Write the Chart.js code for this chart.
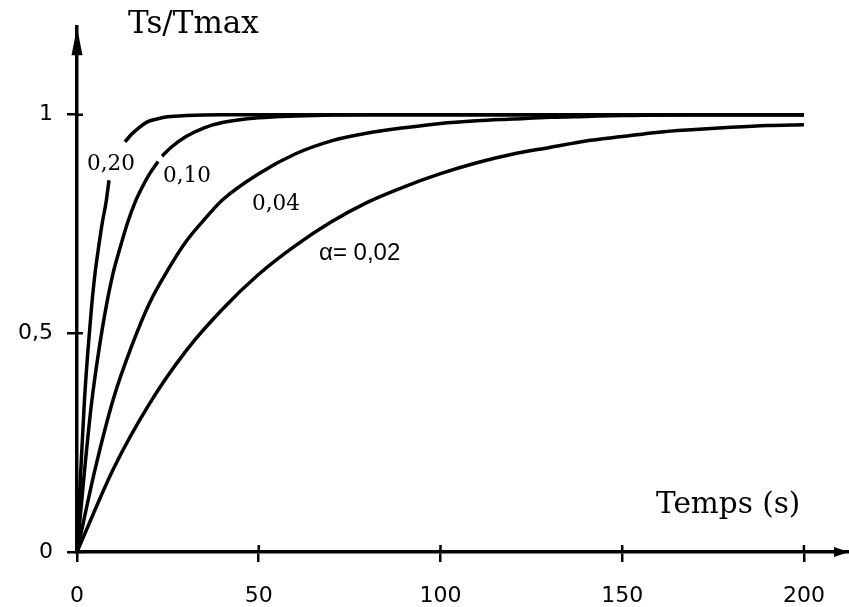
<!DOCTYPE html>
<html>
<head>
<meta charset="utf-8">
<script src="https://cdn.jsdelivr.net/npm/chart.js@4/dist/chart.umd.min.js"></script>
<style>
html, body { margin: 0; padding: 0; background: #fff; }
#wrap { width: 849px; height: 607px; position: relative; }
</style>
</head>
<body>
<div id="wrap"><canvas id="tsCanvas"></canvas></div>
<script>
// tick labels
const xTicks = [0, 50, 100, 150, 200];
const yTicks = [0, 0.5, 1];

// alpha = 0,02
const t002 = [0, 10, 20, 30, 40, 50, 60, 70, 80, 90, 100, 110, 120, 130, 140, 150, 160, 170, 180, 190, 200];
const v002 = [0, 0.19, 0.34, 0.46, 0.555, 0.635, 0.70, 0.755, 0.80, 0.835, 0.865, 0.89, 0.91, 0.925, 0.94, 0.95, 0.96, 0.966, 0.971, 0.975, 0.977];

// alpha = 0,04
const t004 = [0, 5, 10, 15, 20, 25, 30, 35, 40, 50, 60, 70, 80, 90, 100, 110, 120, 130, 140, 150, 170, 200];
const v004 = [0, 0.19, 0.35, 0.47, 0.57, 0.645, 0.71, 0.76, 0.805, 0.865, 0.91, 0.94, 0.958, 0.97, 0.98, 0.986, 0.99, 0.994, 0.996, 0.998, 1, 1];

// alpha = 0,10 (small break near the label)
const t010 = [0, 2, 4, 6, 8, 10, 12, 14, 16, 18, 20, 22.3, 22.9, 23.4, 26, 30, 35, 40, 50, 60, 80, 100, 200];
const v010 = [0, 0.18, 0.34, 0.46, 0.56, 0.64, 0.70, 0.755, 0.80, 0.835, 0.865, 0.893, null, 0.905, 0.926, 0.95, 0.97, 0.982, 0.993, 0.997, 1, 1, 1];

// alpha = 0,20 (break where the label sits)
const t020 = [0, 1, 2, 3, 4, 5, 6, 7, 8, 8.8, 11, 13.2, 15, 17, 19.5, 22, 25, 30, 40, 200];
const v020 = [0, 0.18, 0.34, 0.46, 0.56, 0.64, 0.70, 0.755, 0.80, 0.85, null, 0.938, 0.955, 0.97, 0.984, 0.99, 0.995, 0.998, 1, 1];

const seriesT = [t002, t004, t010, t020];
const seriesV = [v002, v004, v010, v020];

function toPoints(ts, vs) {
  var pts = [];
  for (let i = 0; i < ts.length; i++) {
    pts.push({ x: ts[i], y: vs[i] });
  }
  return pts;
}

var datasets = [];
for (let i = 0; i < seriesT.length; i++) {
  datasets.push({
    data: toPoints(seriesT[i], seriesV[i]),
    borderColor: "#000",
    borderWidth: 3.5,
    pointRadius: 0,
    fill: false,
    spanGaps: false,
    cubicInterpolationMode: "monotone"
  });
}

// arrows, inner tick halves and the texts
const decor = {
  id: "decor",
  afterDraw(chart) {
    const ctx = chart.ctx;
    const xs = chart.scales.x, ys = chart.scales.y;
    const x0 = xs.getPixelForValue(0), y0 = ys.getPixelForValue(0);
    const top = chart.chartArea.top, right = chart.chartArea.right;
    ctx.save();
    ctx.strokeStyle = "#000";
    ctx.fillStyle = "#000";
    ctx.lineWidth = 2.5;
    ctx.beginPath();
    yTicks.forEach(v => { const p = ys.getPixelForValue(v); ctx.moveTo(x0, p); ctx.lineTo(x0 + 6, p); });
    xTicks.forEach(v => { const p = xs.getPixelForValue(v); ctx.moveTo(p, y0); ctx.lineTo(p, y0 - 7); });
    ctx.stroke();

    ctx.beginPath();
    ctx.moveTo(x0, top);
    ctx.lineTo(x0 - 5.5, top + 28);
    ctx.lineTo(x0 + 5.5, top + 28);
    ctx.closePath();
    ctx.fill();
    ctx.beginPath();
    ctx.moveTo(right, y0);
    ctx.lineTo(right - 15, y0 - 5);
    ctx.lineTo(right - 15, y0 + 5);
    ctx.closePath();
    ctx.fill();

    ctx.textAlign = "left";
    ctx.textBaseline = "alphabetic";
    ctx.font = "31px 'DejaVu Serif'";
    ctx.fillText("Ts/Tmax", 128, 33);
    ctx.font = "29.5px 'DejaVu Serif'";
    ctx.fillText("Temps (s)", 656, 513);
    ctx.font = "21.5px 'DejaVu Serif'";
    ctx.fillText("0,20", 87, 170);
    ctx.fillText("0,10", 163, 182);
    ctx.fillText("0,04", 252, 210);
    ctx.font = "24px 'Liberation Sans'";
    ctx.fillText("\u03b1= 0,02", 319, 260);
    ctx.restore();
  }
};

Chart.defaults.color = "#000";

new Chart(document.getElementById("tsCanvas"), {
  type: "line",
  data: { datasets: datasets },
  plugins: [decor],
  options: {
    responsive: true,
    maintainAspectRatio: false,
    animation: false,
    layout: { padding: { top: 27, right: 0, left: 0, bottom: 0 } },
    plugins: { legend: { display: false }, tooltip: { enabled: false } },
    scales: {
      x: {
        type: "linear",
        min: 0,
        max: 212.4,
        afterFit(scale) { scale.height = 55; },
        afterBuildTicks(scale) { scale.ticks = xTicks.map(v => ({ value: v })); },
        ticks: {
          padding: 21,
          font: { family: "DejaVu Sans", size: 22 },
          callback: v => String(v)
        },
        grid: { display: true, drawOnChartArea: false, drawTicks: true, tickLength: 10, color: "#000", lineWidth: 2.5 },
        border: { display: true, color: "#000", width: 3.5 }
      },
      y: {
        type: "linear",
        min: 0,
        max: 1.2,
        afterFit(scale) { scale.width = 77; },
        afterBuildTicks(scale) { scale.ticks = yTicks.map(v => ({ value: v })); },
        ticks: {
          padding: 14,
          font: { family: "DejaVu Sans", size: 22 },
          callback: v => String(v).replace(".", ",")
        },
        grid: { display: true, drawOnChartArea: false, drawTicks: true, tickLength: 10, color: "#000", lineWidth: 2.5 },
        border: { display: true, color: "#000", width: 3.5 }
      }
    }
  }
});
</script>
</body>
</html>
